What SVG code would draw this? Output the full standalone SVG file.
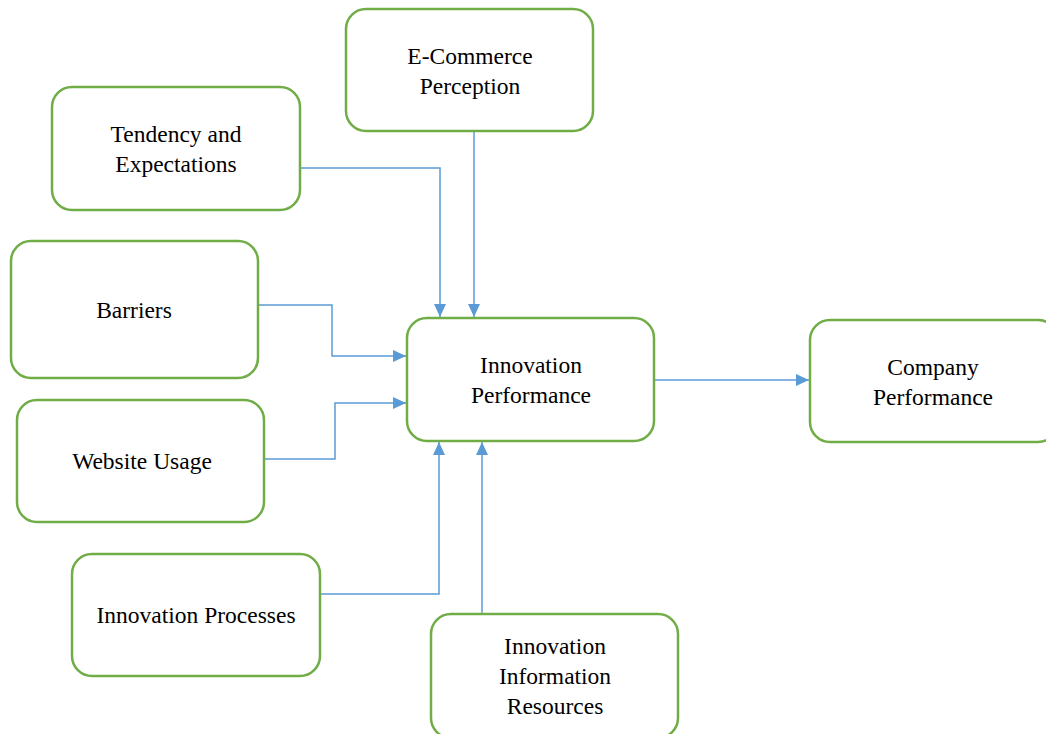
<svg xmlns="http://www.w3.org/2000/svg" width="1046" height="734" viewBox="0 0 1046 734">
<style>
.box{fill:#fff;stroke:#70AD47;stroke-width:2.5}
.lbl{font-family:"Liberation Serif","Times New Roman",serif;font-size:23.5px;fill:#000;text-anchor:middle}
.con{fill:none;stroke:#5B9BD5;stroke-width:1.5}
</style>
<defs>
<marker id="arr" markerUnits="userSpaceOnUse" markerWidth="14" markerHeight="12" refX="13" refY="6" orient="auto" viewBox="0 0 14 12">
<path d="M0,0 L13,6 L0,12 z" fill="#5B9BD5"/>
</marker>
</defs>
<rect width="1046" height="734" fill="#fff"/>
<g id="connectors">
<polyline class="con" points="300,168 440,168 440,317" marker-end="url(#arr)"/>
<polyline class="con" points="474,131 474,317" marker-end="url(#arr)"/>
<polyline class="con" points="258,305 332,305 332,356 406,356" marker-end="url(#arr)"/>
<polyline class="con" points="264,459 335,459 335,403 406,403" marker-end="url(#arr)"/>
<polyline class="con" points="320,594 439,594 439,442" marker-end="url(#arr)"/>
<polyline class="con" points="482,614 482,442" marker-end="url(#arr)"/>
<polyline class="con" points="654,380 809,380" marker-end="url(#arr)"/>
</g>
<g id="ecommerce">
<rect class="box" x="346" y="9" width="247" height="122" rx="20"/>
<text class="lbl" x="470" y="64">E-Commerce</text>
<text class="lbl" x="470" y="94">Perception</text>
</g>
<g id="tendency">
<rect class="box" x="52" y="87" width="248" height="123" rx="20"/>
<text class="lbl" x="176" y="142">Tendency and</text>
<text class="lbl" x="176" y="172">Expectations</text>
</g>
<g id="barriers">
<rect class="box" x="11" y="241" width="247" height="137" rx="20"/>
<text class="lbl" x="134" y="318">Barriers</text>
</g>
<g id="website">
<rect class="box" x="17" y="400" width="247" height="122" rx="20"/>
<text class="lbl" x="142" y="469">Website Usage</text>
</g>
<g id="innovation-performance">
<rect class="box" x="407" y="318" width="247" height="123" rx="20"/>
<text class="lbl" x="531" y="373">Innovation</text>
<text class="lbl" x="531" y="403">Performance</text>
</g>
<g id="company-performance">
<rect class="box" x="810" y="320" width="248" height="122" rx="20"/>
<text class="lbl" x="933" y="375">Company</text>
<text class="lbl" x="933" y="405">Performance</text>
</g>
<g id="innovation-processes">
<rect class="box" x="72" y="554" width="248" height="122" rx="20"/>
<text class="lbl" x="196" y="623">Innovation Processes</text>
</g>
<g id="innovation-resources">
<rect class="box" x="431" y="614" width="247" height="124" rx="20"/>
<text class="lbl" x="555" y="654">Innovation</text>
<text class="lbl" x="555" y="684">Information</text>
<text class="lbl" x="555" y="714">Resources</text>
</g>
</svg>
